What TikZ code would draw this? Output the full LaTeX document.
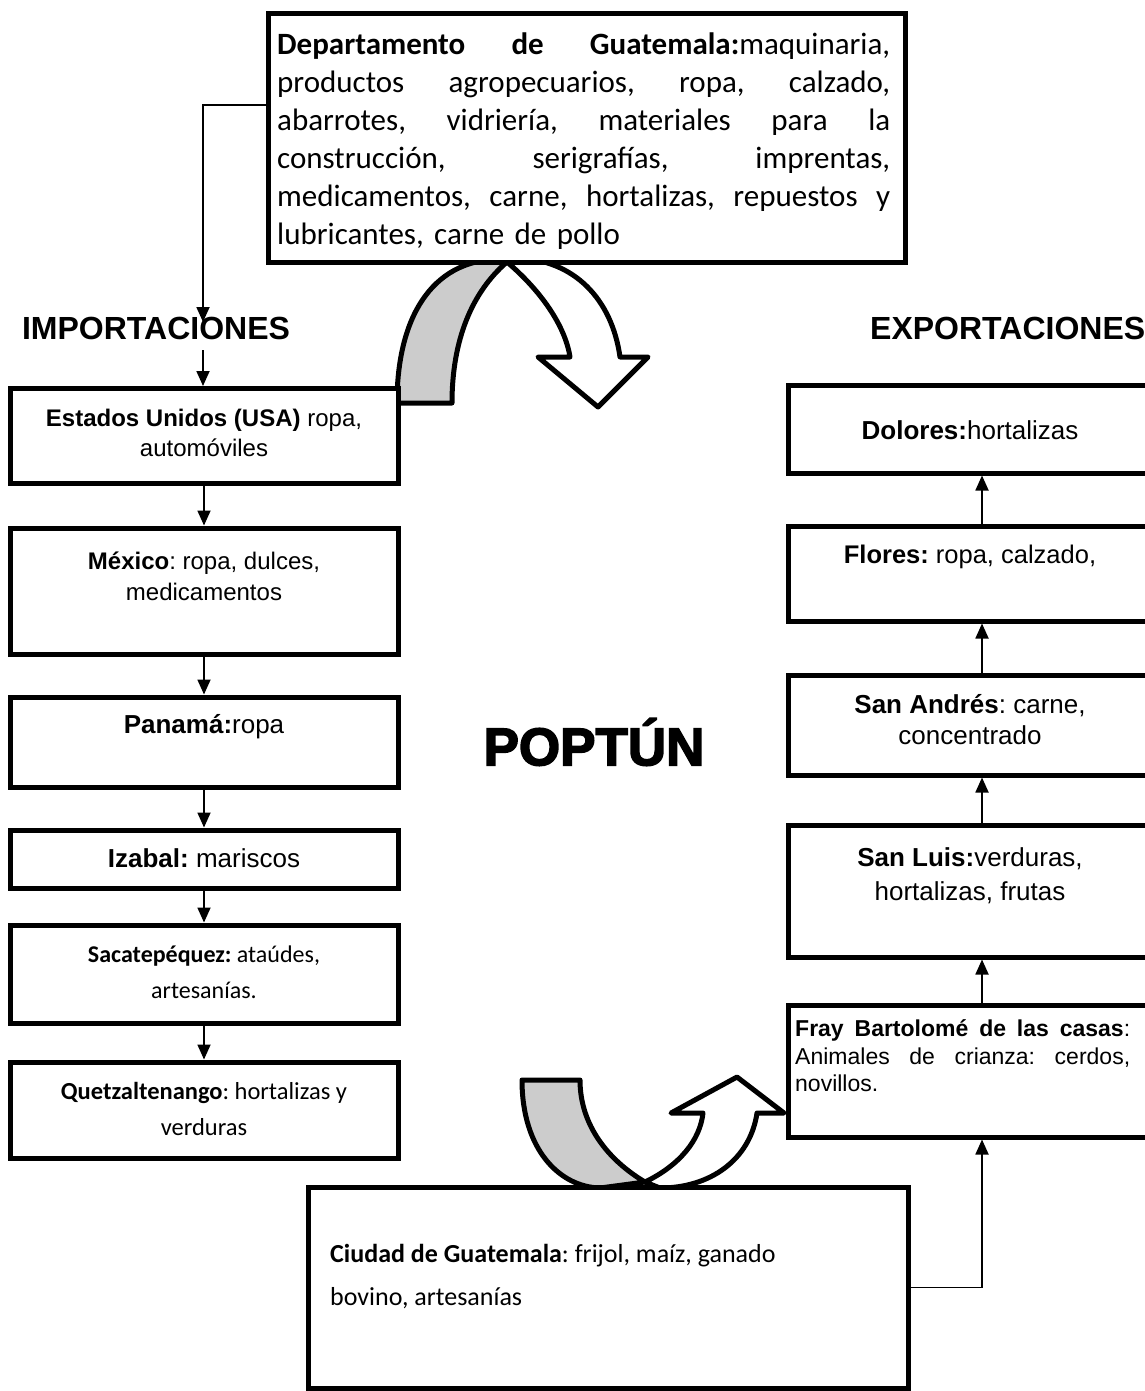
\documentclass[tikz,border=0pt]{standalone}
\usepackage{fontspec}
\setmainfont{Liberation Sans}
\newfontfamily\calfont{Carlito}
\newfontfamily\heavyfont{Liberation Sans}[BoldFeatures={FakeBold=3}]
\usetikzlibrary{arrows.meta,calc}
\definecolor{bandgrey}{HTML}{CCCCCC}
\tikzset{
  box/.style={draw, line width=5pt, fill=white, rectangle, inner sep=0pt},
  lbox/.style={box, minimum width=388pt},
  rbox/.style={box, minimum width=364pt},
  conn/.style={line width=1.8pt, -{Triangle[width=13pt,length=15pt]}},
  band/.style={draw, line width=5pt, line join=round},
  title/.style={font=\fontsize{32}{38}\selectfont\bfseries, inner sep=0pt},
  atext/.style={align=center, inner sep=0pt},
}
\newcommand{\fs}[2]{\fontsize{#1}{#2}\selectfont}
\newcommand{\jline}[2]{\leavevmode\hbox to #1{#2}}
\frenchspacing
\begin{document}
\begin{tikzpicture}[x=1pt,y=-1pt]
\useasboundingbox (0,0) rectangle (1144,1391);

% curved arrows (behind boxes)
\path[band, fill=bandgrey] (397,403) .. controls (397,320) and (430,260) .. (500,259) -- (507,262) .. controls (472,292) and (452,340) .. (452,403) -- cycle;
\path[band, fill=white] (507,262) .. controls (540,290) and (565,325) .. (570,357) -- (538,357) -- (598,407) -- (648,357) -- (620,357) .. controls (612,300) and (575,259) .. (515,258) -- cycle;

\path[band, fill=bandgrey] (522,1080) .. controls (522,1150) and (560,1187) .. (600,1188) -- (645,1182) .. controls (608,1160) and (580,1125) .. (580,1080) -- cycle;
\path[band, fill=white] (645,1182) .. controls (680,1165) and (700,1140) .. (703,1113) -- (671,1113) -- (737,1077) -- (784,1113) -- (757,1113) .. controls (750,1160) and (710,1188) .. (660,1188) -- cycle;

% top box
\node[box, minimum width=637pt, minimum height=248pt] (top) at (586.5,138) {};
\node[anchor=west, inner sep=0pt, text width=613pt, align=left, font=\calfont\fs{31}{38}] (topT) at (277,141) {%
\jline{613pt}{\textbf{Departamento\hfill de\hfill Guatemala:}maquinaria,}\\
\jline{613pt}{productos\hfill agropecuarios,\hfill ropa,\hfill calzado,}\\
\jline{613pt}{abarrotes,\hfill vidriería,\hfill materiales\hfill para\hfill la}\\
\jline{613pt}{construcción,\hfill serigrafías,\hfill imprentas,}\\
\jline{613pt}{medicamentos,\hfill carne,\hfill hortalizas,\hfill repuestos\hfill y}\\
lubricantes, carne de pollo};

% titles
\node[title] (imp) at (156,328) {IMPORTACIONES};
\node[title, anchor=west] (exp) at (870,328) {EXPORTACIONES};
\node[inner sep=0pt, font=\heavyfont\bfseries\fs{53}{60}] (pop) at (594,742) {POPTÚN};

% left column
\node[lbox, minimum height=95pt] (est) at (204,436) {};
\node[lbox, minimum height=126pt] (mex) at (204,591) {};
\node[lbox, minimum height=90pt] (pan) at (204,742) {};
\node[lbox, minimum height=58pt] (iza) at (204,859) {};
\node[lbox, minimum height=98pt] (sac) at (204,974) {};
\node[lbox, minimum height=96pt] (que) at (204,1110) {};

\node[atext, font=\fs{24}{30}] (estT) at (204,433) {\textbf{Estados Unidos (USA)} ropa,\\automóviles};
\node[atext, font=\fs{24}{31}] (mexT) at (204,576) {\textbf{México}: ropa, dulces,\\medicamentos};
\node[atext, font=\fs{26}{30}] (panT) at (204,727) {\textbf{Panamá:}ropa};
\node[atext, font=\fs{26}{30}] (izaT) at (204,858) {\textbf{Izabal:} mariscos};
\node[atext, font=\calfont\fs{24}{36}] (sacT) at (204,972) {\textbf{Sacatepéquez:} ataúdes,\\artesanías.};
\node[atext, font=\calfont\fs{24.5}{36}] (queT) at (204,1109) {\textbf{Quetzaltenango}: hortalizas y\\verduras};

% right column
\node[rbox, minimum height=88pt] (dol) at (970,429) {};
\node[rbox, minimum height=95pt] (flo) at (970,573.5) {};
\node[rbox, minimum height=100pt] (sa) at (970,725) {};
\node[rbox, minimum height=132pt] (slu) at (970,891) {};
\node[rbox, minimum height=132pt] (fray) at (970,1071) {};

\node[atext, font=\fs{26}{30}] (dolT) at (970,430) {\textbf{Dolores:}hortalizas};
\node[atext, font=\fs{25.5}{30}] (floT) at (970,557) {\textbf{Flores:} ropa, calzado,};
\node[atext, font=\fs{26}{31}] (saT) at (970,720) {\textbf{San Andrés}: carne,\\concentrado};
\node[atext, font=\fs{26}{34}] (sluT) at (970,876) {\textbf{San Luis:}verduras,\\hortalizas, frutas};
\node[anchor=west, inner sep=0pt, text width=335pt, align=left, font=\fs{23}{27.5}] (frayT) at (795,1056) {%
\jline{335pt}{\textbf{Fray\hfill Bartolomé\hfill de\hfill las\hfill casas}:}\\
\jline{335pt}{Animales\hfill de\hfill crianza:\hfill cerdos,}\\
novillos.};

% bottom box
\node[box, minimum width=600pt, minimum height=201pt] (ciu) at (608,1287.5) {};
\node[anchor=west, inner sep=0pt, align=left, font=\calfont\fs{26}{43}] (ciuT) at (330,1277) {\textbf{Ciudad de Guatemala}: frijol, maíz, ganado\\bovino, artesanías};

% connectors
\coordinate (tl) at (268,105);
\coordinate (impIn) at (203,322);
\coordinate (impOut) at (203,350);
\coordinate (rx) at (982,0);
\draw[conn] (tl) -| (impIn);
\draw[conn] (impOut) -- (impOut |- est.north);
\draw[conn] (est.south) -- (mex.north);
\draw[conn] (mex.south) -- (pan.north);
\draw[conn] (pan.south) -- (iza.north);
\draw[conn] (iza.south) -- (sac.north);
\draw[conn] (sac.south) -- (que.north);
\draw[conn] (ciu.east) -| (fray.south -| rx);
\draw[conn] (fray.north -| rx) -- (slu.south -| rx);
\draw[conn] (slu.north -| rx) -- (sa.south -| rx);
\draw[conn] (sa.north -| rx) -- (flo.south -| rx);
\draw[conn] (flo.north -| rx) -- (dol.south -| rx);
\end{tikzpicture}
\end{document}
